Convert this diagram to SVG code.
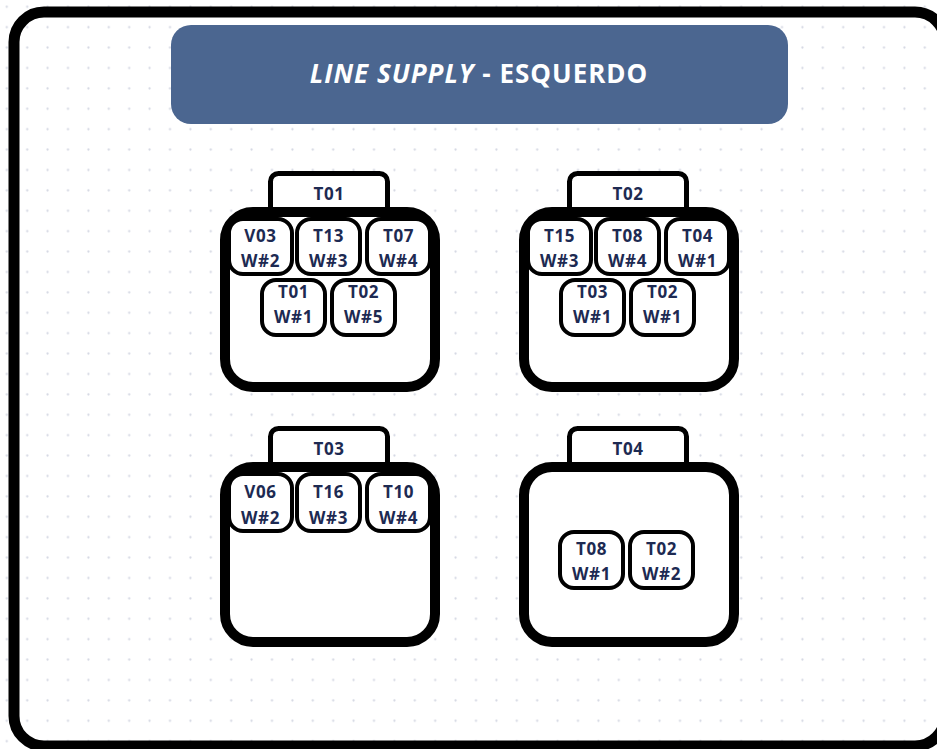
<svg xmlns="http://www.w3.org/2000/svg" width="937" height="749" viewBox="0 0 937 749">
  <defs>
    <pattern id="dots" patternUnits="userSpaceOnUse" x="-3.4" y="-3.4" width="20.4" height="20.4">
      <circle cx="10.2" cy="10.2" r="1.1" fill="#d3d6e2"/>
    </pattern>
    <style>
      .frame { fill: none; stroke: #000; stroke-width: 11; }
      .banner { fill: #4b6690; }
      .title { font-family: "Open Sans", "Noto Sans", "DejaVu Sans", sans-serif; font-weight: 700; font-size: 26px; letter-spacing: 1px; fill: #ffffff; text-anchor: middle; }
      .tab { fill: #ffffff; stroke: #000; stroke-width: 5; }
      .body { fill: #ffffff; stroke: #000; stroke-width: 10; }
      .cav { fill: #ffffff; stroke: #000; stroke-width: 4; }
      .lbl { font-family: "Open Sans", "Noto Sans", "DejaVu Sans", sans-serif; font-weight: 700; font-size: 17px; letter-spacing: 0.6px; fill: #1d2a52; text-anchor: middle; }
    </style>
    <!-- connector housing: top tab + rounded body -->
    <g id="housing">
      <rect class="tab" x="270.5" y="173.5" width="117" height="45" rx="8"/>
      <rect class="body" x="225" y="212" width="210" height="175" rx="28"/>
    </g>
  </defs>

  <!-- dotted background -->
  <rect x="0" y="0" width="937" height="749" fill="#ffffff"/>
  <rect x="0" y="0" width="937" height="749" fill="url(#dots)"/>

  <!-- outer frame -->
  <rect class="frame" x="14" y="12" width="931" height="734" rx="30"/>

  <!-- title banner -->
  <g id="title">
    <rect class="banner" x="171" y="25" width="617" height="99" rx="20"/>
    <text class="title" x="479" y="83"><tspan font-style="italic">LINE SUPPLY</tspan> - ESQUERDO</text>
  </g>

  <!-- connector T01 -->
  <g id="conn-T01">
    <use href="#housing"/>
    <text class="lbl" x="329" y="200">T01</text>
    <g id="T01-c1"><rect class="cav" x="229" y="219" width="63" height="55" rx="14"/>
      <text class="lbl" x="260.5" y="242">V03</text><text class="lbl" x="260.5" y="267">W#2</text></g>
    <g id="T01-c2"><rect class="cav" x="297" y="219" width="63" height="55" rx="14"/>
      <text class="lbl" x="328.5" y="242">T13</text><text class="lbl" x="328.5" y="267">W#3</text></g>
    <g id="T01-c3"><rect class="cav" x="367" y="219" width="63" height="55" rx="14"/>
      <text class="lbl" x="398.5" y="242">T07</text><text class="lbl" x="398.5" y="267">W#4</text></g>
    <g id="T01-c4"><rect class="cav" x="262" y="280" width="63" height="55" rx="14"/>
      <text class="lbl" x="293.5" y="298">T01</text><text class="lbl" x="293.5" y="323">W#1</text></g>
    <g id="T01-c5"><rect class="cav" x="332" y="280" width="63" height="55" rx="14"/>
      <text class="lbl" x="363.5" y="298">T02</text><text class="lbl" x="363.5" y="323">W#5</text></g>
  </g>

  <!-- connector T02 -->
  <g id="conn-T02" transform="translate(299,0)">
    <use href="#housing"/>
    <text class="lbl" x="329" y="200">T02</text>
    <g id="T02-c1"><rect class="cav" x="229" y="219" width="63" height="55" rx="14"/>
      <text class="lbl" x="260.5" y="242">T15</text><text class="lbl" x="260.5" y="267">W#3</text></g>
    <g id="T02-c2"><rect class="cav" x="297" y="219" width="63" height="55" rx="14"/>
      <text class="lbl" x="328.5" y="242">T08</text><text class="lbl" x="328.5" y="267">W#4</text></g>
    <g id="T02-c3"><rect class="cav" x="367" y="219" width="63" height="55" rx="14"/>
      <text class="lbl" x="398.5" y="242">T04</text><text class="lbl" x="398.5" y="267">W#1</text></g>
    <g id="T02-c4"><rect class="cav" x="262" y="280" width="63" height="55" rx="14"/>
      <text class="lbl" x="293.5" y="298">T03</text><text class="lbl" x="293.5" y="323">W#1</text></g>
    <g id="T02-c5"><rect class="cav" x="332" y="280" width="63" height="55" rx="14"/>
      <text class="lbl" x="363.5" y="298">T02</text><text class="lbl" x="363.5" y="323">W#1</text></g>
  </g>

  <!-- connector T03 -->
  <g id="conn-T03" transform="translate(0,255)">
    <use href="#housing"/>
    <text class="lbl" x="329" y="200">T03</text>
    <g id="T03-c1"><rect class="cav" x="229" y="219" width="63" height="57" rx="14"/>
      <text class="lbl" x="260.5" y="243">V06</text><text class="lbl" x="260.5" y="269">W#2</text></g>
    <g id="T03-c2"><rect class="cav" x="297" y="219" width="63" height="57" rx="14"/>
      <text class="lbl" x="328.5" y="243">T16</text><text class="lbl" x="328.5" y="269">W#3</text></g>
    <g id="T03-c3"><rect class="cav" x="367" y="219" width="63" height="57" rx="14"/>
      <text class="lbl" x="398.5" y="243">T10</text><text class="lbl" x="398.5" y="269">W#4</text></g>
  </g>

  <!-- connector T04 -->
  <g id="conn-T04" transform="translate(299,255)">
    <use href="#housing"/>
    <text class="lbl" x="329" y="200">T04</text>
    <g id="T04-c1"><rect class="cav" x="261" y="277" width="63" height="56" rx="14"/>
      <text class="lbl" x="292.5" y="300">T08</text><text class="lbl" x="292.5" y="325">W#1</text></g>
    <g id="T04-c2"><rect class="cav" x="331" y="277" width="63" height="56" rx="14"/>
      <text class="lbl" x="362.5" y="300">T02</text><text class="lbl" x="362.5" y="325">W#2</text></g>
  </g>

  <!-- no wiring between connectors -->
  <g id="connectors"/>
</svg>
